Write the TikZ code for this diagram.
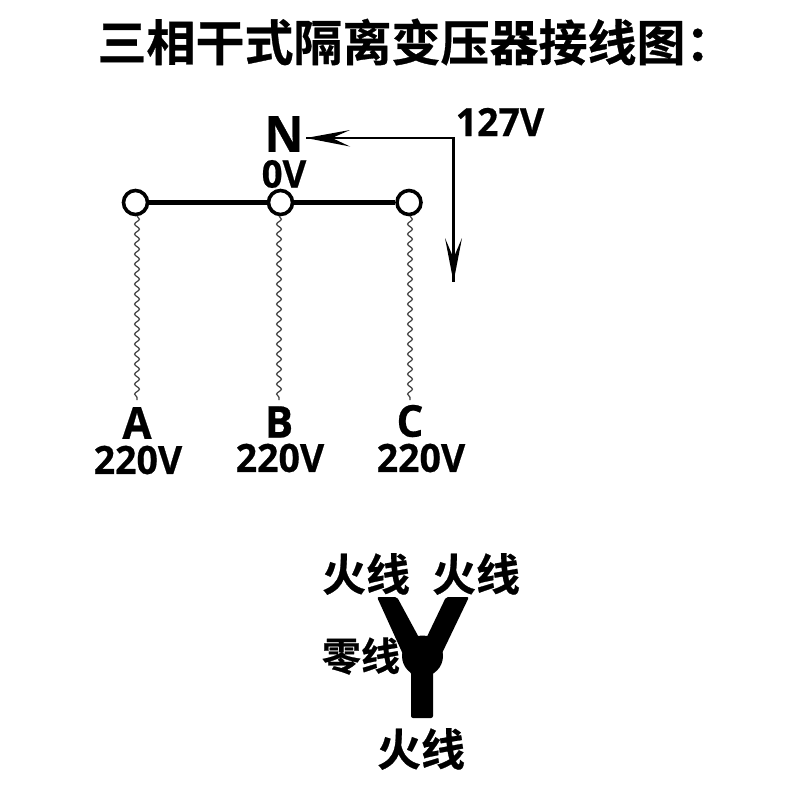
\documentclass[tikz,border=0pt]{standalone}
\usepackage{fontspec}
\usetikzlibrary{decorations.pathmorphing}
\newfontfamily\cjkbold[FakeBold=0.6]{Noto Sans CJK SC Bold}
\newfontfamily\latinbold[FakeBold=0.5,FakeStretch=0.96]{Open Sans Bold}
\tikzset{
 px/.style={x=1pt,y=-1pt},
 title/.style={font=\cjkbold\fontsize{49}{49}\selectfont,inner sep=0pt,anchor=center},
 cjklabel/.style={font=\cjkbold\fontsize{44}{44}\selectfont,inner sep=0pt,anchor=center},
 cjksmall/.style={font=\cjkbold\fontsize{39}{39}\selectfont,inner sep=0pt,anchor=center},
 letter/.style={font=\latinbold\fontsize{44}{44}\selectfont,inner sep=0pt,anchor=center},
 volt/.style={font=\latinbold\fontsize{39}{39}\selectfont,inner sep=0pt,anchor=center},
 terminal/.style={circle,draw=black,line width=3.6pt,fill=white,minimum size=24pt,inner sep=0pt},
 busline/.style={line width=4.4pt,black},
 wavy/.style={draw=black!75,line width=1.2pt,decorate,decoration={snake,segment length=10pt,amplitude=2.4pt}},
 barb/.style={fill=black,draw=none},
}
\begin{document}
\begin{tikzpicture}[px]
\useasboundingbox (0,0) rectangle (800,800);
\fill[white] (0,0) rectangle (800,800);
\node[title] (t) at (416,42) {三相干式隔离变压器接线图：};
\node[font=\latinbold\fontsize{50}{50}\selectfont,inner sep=0pt] (n) at (284,134) {N};
\node[font=\latinbold\fontsize{38}{38}\selectfont,inner sep=0pt] (zero) at (284,174) {0V};
\node[volt] (v127) at (500,122) {127V};
\coordinate (corner) at (453,138);
\coordinate (tipn) at (306,138);
\coordinate (tipd) at (453.5,282);
\draw[line width=2.6pt] (454.5,138) -- (tipn);
\draw[line width=2.6pt] (453.5,137) -- (tipd);
\fill[barb] (tipn) -- (350,130) -- (332,138) -- (350,146.5) -- cycle;
\fill[barb] (tipd) -- (462,238) -- (453.5,258) -- (445,238) -- cycle;
\node[terminal] (ta) at (135.5,202.5) {};
\node[terminal] (tb) at (280.5,202.5) {};
\node[terminal] (tc) at (409,202.5) {};
\draw[busline] (ta) -- (tb);
\draw[busline] (tb) -- (tc);
\coordinate (ea) at (137,400);
\coordinate (eb) at (279,400);
\coordinate (ec) at (410,400);
\draw[wavy] (137,216) -- (ea);
\draw[wavy] (279,216) -- (eb);
\draw[wavy] (410,216) -- (ec);
\node[letter] (a) at (137,423) {A};
\node[letter] (b) at (279,422) {B};
\node[letter] (c) at (410,421) {C};
\node[volt] (va) at (138,460) {220V};
\node[volt] (vb) at (280,458) {220V};
\node[volt] (vc) at (421,458) {220V};
\node[cjklabel] (l1) at (366,574) {火线};
\node[cjklabel] (l2) at (476,574) {火线};
\node[cjksmall] (l3) at (361,656) {零线};
\node[cjklabel] (l4) at (421,749) {火线};
\fill[black,rounded corners=2pt] (377,597) -- (397,597) -- (423,645) -- (446,597) -- (469,597) -- (433,672) -- (433,718) -- (411,718) -- (411,672) -- cycle;
\fill[black] (422.5,656) circle (20.5);
\end{tikzpicture}
\end{document}
